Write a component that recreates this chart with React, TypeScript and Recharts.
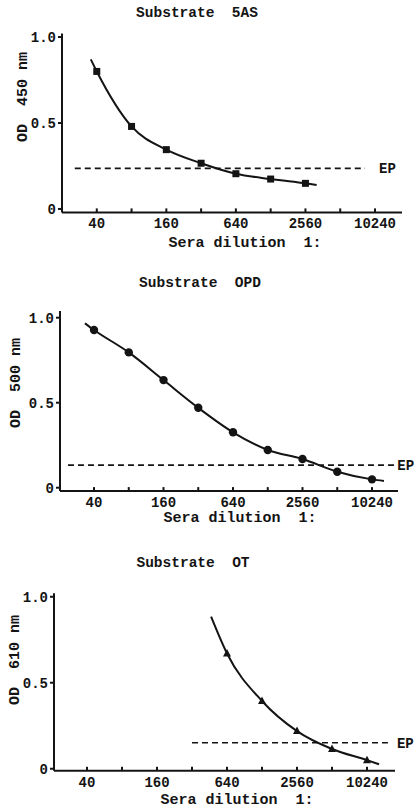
import { LineChart, Line, XAxis, YAxis, ReferenceLine } from "recharts";

// dilution series (1:40 ... 1:10240)
const dilutionTicks = [40, 80, 160, 320, 640, 1280, 2560, 5120, 10240];
const labelledTicks = [40, 160, 640, 2560, 10240];
const odTicks = [0, 0.5, 1];

const sasDilutions = [40, 80, 160, 320, 640, 1280, 2560];
const sasOd = [0.8, 0.48, 0.345, 0.266, 0.205, 0.174, 0.149];
const sasTails = [[35.5, 0.87], [3200, 0.14]];
const sasEp = 0.236;
const sasEpRange = [25.8, 8400];

const opdDilutions = [40, 80, 160, 320, 640, 1280, 2560, 5120, 10240];
const opdOd = [0.928, 0.796, 0.633, 0.47, 0.326, 0.222, 0.169, 0.094, 0.049];
const opdTails = [[33.4, 0.967], [13000, 0.04]];
const opdEp = 0.133;
const opdEpRange = [23.8, 16000];

const otDilutions = [640, 1280, 2560, 5120, 10240];
const otOd = [0.67, 0.394, 0.219, 0.115, 0.05];
const otTails = [[467, 0.884], [13000, 0.026]];
const otEp = 0.151;
const otEpRange = [320, 15500];

const font = "'Liberation Mono', 'Courier New', monospace";
const ink = "#141414";

type Pt = { dilution: number; od: number; tail?: boolean };

function buildData(dil: number[], od: number[], tails: number[][]): Pt[] {
  const pts: Pt[] = dil.map((d, i) => ({ dilution: d, od: od[i] }));
  pts.unshift({ dilution: tails[0][0], od: tails[0][1], tail: true });
  pts.push({ dilution: tails[1][0], od: tails[1][1], tail: true });
  return pts;
}

function marker(kind: "square" | "circle" | "triangle") {
  return (props: any) => {
    const { cx, cy, payload, index } = props;
    if (payload.tail || cx == null) return <g key={`m-${index}`} />;
    if (kind === "square")
      return <rect key={`m-${index}`} x={cx - 3.5} y={cy - 3.5} width={7} height={7} fill={ink} />;
    if (kind === "circle") return <circle key={`m-${index}`} cx={cx} cy={cy} r={4.2} fill={ink} />;
    return (
      <path key={`m-${index}`} d={`M${cx},${cy - 4.5} L${cx + 4},${cy + 3} L${cx - 4},${cy + 3} Z`} fill={ink} />
    );
  };
}

interface PanelProps {
  top: number;
  height: number;
  title: string;
  titleX: number;
  yTitle: string;
  yTitleX: number;
  yTitleY: number;
  xTitleX: number;
  xTitleY: number;
  data: Pt[];
  kind: "square" | "circle" | "triangle";
  ep: number;
  epRange: number[];
  epOffset: number;
  xDomain: [number, number];
  yDomain: [number, number];
  margin: { top: number; right: number; bottom: number; left: number };
  yAxisWidth: number;
}

function Panel(p: PanelProps) {
  const textStyle = { fontFamily: font, fontWeight: 700, fill: ink };
  return (
    <div style={{ position: "absolute", left: 0, top: p.top, width: 418, height: p.height }}>
      <div
        style={{
          position: "absolute",
          left: p.titleX - 100,
          width: 200,
          top: 5,
          textAlign: "center",
          fontFamily: font,
          fontWeight: 700,
          fontSize: 14.5,
          color: ink,
          whiteSpace: "pre",
        }}
      >
        {p.title}
      </div>
      <LineChart width={418} height={p.height} data={p.data} margin={p.margin}>
        <XAxis
          dataKey="dilution"
          type="number"
          scale="log"
          domain={p.xDomain}
          allowDataOverflow
          ticks={dilutionTicks}
          interval={0}
          tickFormatter={(v: number) => (labelledTicks.includes(v) ? String(v) : "")}
          stroke={ink}
          strokeWidth={2}
          tickSize={-4}
          tickMargin={10}
          height={30}
          tick={{ ...textStyle, fontSize: 14 }}
          label={{
            content: () => (
              <text x={p.xTitleX} y={p.xTitleY} textAnchor="middle" dominantBaseline="central" style={{ ...textStyle, fontSize: 15, whiteSpace: "pre" }}>
                {"Sera dilution  1:"}
              </text>
            ),
          }}
        />
        <YAxis
          dataKey="od"
          type="number"
          domain={p.yDomain}
          allowDataOverflow
          ticks={odTicks}
          tickFormatter={(v: number) => (v === 0 ? "0" : v.toFixed(1))}
          stroke={ink}
          strokeWidth={2}
          tickSize={4}
          tickMargin={2}
          width={p.yAxisWidth}
          tick={{ ...textStyle, fontSize: 14 }}
          label={{
            content: () => (
              <text
                x={p.yTitleX}
                y={p.yTitleY}
                transform={`rotate(-90 ${p.yTitleX} ${p.yTitleY})`}
                textAnchor="middle"
                dominantBaseline="central"
                style={{ ...textStyle, fontSize: 15, whiteSpace: "pre" }}
              >
                {p.yTitle}
              </text>
            ),
          }}
        />
        <ReferenceLine
          segment={[
            { x: p.epRange[0], y: p.ep },
            { x: p.epRange[1], y: p.ep },
          ]}
          stroke={ink}
          strokeWidth={1.6}
          strokeDasharray="6 4"
          ifOverflow="visible"
          label={{ value: "EP", position: "right", offset: p.epOffset, style: { ...textStyle, fontSize: 14 } }}
        />
        <Line
          dataKey="od"
          type="monotone"
          stroke={ink}
          strokeWidth={2}
          dot={marker(p.kind)}
          activeDot={false}
          isAnimationActive={false}
        />
      </LineChart>
    </div>
  );
}

export default function App() {
  return (
    <div style={{ position: "absolute", left: 0, top: 0, width: 418, height: 809, background: "#fff", overflow: "hidden" }}>
      <Panel
        top={0}
        height={260}
        title="Substrate  5AS"
        titleX={197}
        yTitle="OD  450 nm"
        yTitleX={23}
        yTitleY={97}
        xTitleX={245}
        xTitleY={243}
        data={buildData(sasDilutions, sasOd, sasTails)}
        kind="square"
        ep={sasEp}
        epRange={sasEpRange}
        epOffset={14}
        xDomain={[20, 17540]}
        yDomain={[-0.02, 1.02]}
        margin={{ top: 33.6, right: 16, bottom: 17.6, left: 0 }}
        yAxisWidth={62}
      />
      <Panel
        top={270}
        height={260}
        title="Substrate  OPD"
        titleX={200}
        yTitle="OD  500 nm"
        yTitleX={16}
        yTitleY={113}
        xTitleX={240}
        xTitleY={248}
        data={buildData(opdDilutions, opdOd, opdTails)}
        kind="circle"
        ep={opdEp}
        epRange={opdEpRange}
        epOffset={3}
        xDomain={[20.3, 17200]}
        yDomain={[-0.02, 1.04]}
        margin={{ top: 40.9, right: 20, bottom: 8.9, left: 0 }}
        yAxisWidth={60}
      />
      <Panel
        top={550}
        height={259}
        title="Substrate  OT"
        titleX={193}
        yTitle="OD  610 nm"
        yTitleX={15}
        yTitleY={110}
        xTitleX={237}
        xTitleY={250}
        data={buildData(otDilutions, otOd, otTails)}
        kind="triangle"
        ep={otEp}
        epRange={otEpRange}
        epOffset={9}
        xDomain={[20.8, 17830]}
        yDomain={[-0.012, 1.02]}
        margin={{ top: 43.3, right: 23, bottom: 8.2, left: 0 }}
        yAxisWidth={54}
      />
    </div>
  );
}
